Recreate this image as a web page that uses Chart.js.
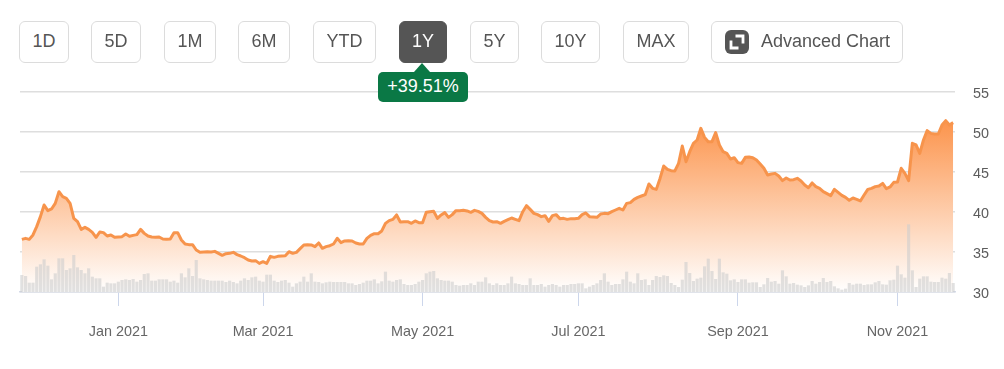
<!DOCTYPE html>
<html>
<head>
<meta charset="utf-8">
<script src="https://cdn.jsdelivr.net/npm/chart.js@4"></script>
<style>
    html, body { margin: 0; padding: 0; background: #fff; }
    #wrap { position: relative; width: 1004px; height: 369px; overflow: hidden; font-family: "Liberation Sans", Arial, sans-serif; }
    #chart-box { position: absolute; left: 0; top: 0; width: 1004px; height: 369px; }
    .btn {
        position: absolute; top: 21px; height: 40px; line-height: 38px;
        border: 1px solid #dcdcdc; border-radius: 6px; background: #fff;
        color: #555; font-size: 18px; text-align: center; box-sizing: content-box;
    }
    .btn.active { background: #555; border-color: #555; color: #fff; }
    .badge {
        position: absolute; left: 378px; top: 72px; width: 90px; height: 30px; line-height: 28px;
        background: #0a7845; color: #fff; border-radius: 5px; font-size: 18px; text-align: center;
    }
    .badge:before {
        content: ""; position: absolute; left: 36px; top: -9px; width: 0; height: 0;
        border-left: 8px solid transparent; border-right: 8px solid transparent; border-bottom: 9px solid #0a7845;
    }
    .btn svg { position: absolute; left: 13px; top: 8px; }
    .btn .txt { position: absolute; left: 49px; top: 0; white-space: nowrap; }
</style>
</head>
<body>
<div id="wrap">
    <div id="chart-box"><canvas id="chart"></canvas></div>
    <div class="btn" style="left:19px;width:48px">1D</div>
    <div class="btn" style="left:91px;width:48px">5D</div>
    <div class="btn" style="left:164px;width:50px">1M</div>
    <div class="btn" style="left:238px;width:50px">6M</div>
    <div class="btn" style="left:313px;width:61px">YTD</div>
    <div class="btn active" style="left:399px;width:46px">1Y</div>
    <div class="btn" style="left:470px;width:47px">5Y</div>
    <div class="btn" style="left:541px;width:57px">10Y</div>
    <div class="btn" style="left:623px;width:64px">MAX</div>
    <div class="btn" style="left:711px;width:190px">
        <svg width="24" height="24" viewBox="0 0 24 24">
            <rect x="0" y="0" width="24" height="24" rx="6" fill="#555"/>
            <path d="M10.5 6H18V13.5M13.5 18H6V10.5" fill="none" stroke="#fff" stroke-width="2.8"/>
        </svg>
        <span class="txt">Advanced Chart</span>
    </div>
    <div class="badge">+39.51%</div>
</div>
<script>
// 終値 (読み取り値)
const prices = [
    36.58,36.71,36.58,37.13,38.17,39.42,40.88,40.17,40.38,41.08,
    42.54,41.92,41.71,41.08,39.21,38.79,37.83,38.08,37.83,37.46,
    36.83,37.5,37.42,37,37.13,36.83,36.88,36.92,37.25,36.96,
    37.08,37.17,37.83,37.33,37,36.88,36.83,36.88,36.63,36.58,
    36.63,37.42,37.42,36.5,36,35.92,35.92,35.25,34.96,35,
    35.04,35,35.08,34.83,34.58,34.79,34.83,34.96,34.67,34.5,
    34.29,34,33.88,33.92,33.58,33.79,33.58,34.46,34.33,34.46,
    34.5,34.54,35.04,34.83,34.96,35.42,35.88,35.92,35.88,35.67,
    36.13,35.46,35.67,35.79,
    36,36.71,36.17,36.38,36.42,36.38,36.13,36,36,36.71,
    37.08,37.29,37.29,37.63,38.58,38.92,39.08,39.63,38.75,38.79,
    38.79,38.58,38.88,38.67,38.67,39.96,40.04,40.08,39.21,39.63,
    39.92,39.33,39.67,40.17,40.17,40.21,40.13,39.96,40.21,40.08,
    39.83,39.33,38.92,38.75,38.79,38.58,38.83,39.04,39.25,39.08,
    38.92,40.04,40.79,40.33,39.83,39.67,39.42,39.54,38.83,39.54,
    39.67,39.17,39.21,39.08,39.17,39.17,39.21,39.67,39.88,39.42,
    39.38,39.33,39.75,39.83,39.79,40.04,40.25,40.46,40.25,41.08,
    41.17,41.58,41.83,42,42.17,43.5,42.96,42.83,
    44.2,
    45.75,45.33,45.17,45.13,46.08,48.25,46.29,47.54,48.58,49,
    50.46,49.33,48.79,48.79,49.92,48.38,47.54,47.33,46.63,46.79,
    46.17,46.08,46.83,46.88,46.79,46.5,46,45.46,44.63,44.75,
    44.83,44.5,43.92,44.25,44,44.04,44.21,43.88,43.38,43.04,
    43.63,43.17,42.96,42.54,42.29,42.04,42.83,42.46,42.08,41.83,
    41.46,41.75,41.58,41.38,42.13,42.83,42.96,43.17,43.25,43.58,
    42.92,43.13,43.71,43.75,45.46,44.83,43.92,48.58,48.38,47.33,
    49,50.17,49.83,49.75,49.75,50.88,51.42,50.88,51.17
];

// 出来高 (単位は見た目からの推定)
const volumes = [
    1.7,1.6,.93,.93,2.53,2.77,3.27,2.63,1.27,1.87,
    3.37,3.37,2.2,2.37,3.7,2.47,2.2,1.87,2.37,1.53,
    1.37,1.37,.53,.93,.87,.87,1.03,1.2,1.27,1.2,
    1.3,1.03,1.2,1.8,1.87,1.13,1.13,1.27,1.27,1.27,
    1.03,1.13,.93,1.87,1.47,2.37,1.6,3.2,1.37,1.27,
    1.2,1.13,1.13,1.13,1.13,1,1.13,1,.87,1.13,
    1.37,1.2,1.47,1.53,1.13,1.03,1.73,1.73,1.13,1,
    1.13,1.2,.93,.53,.87,1.03,1.53,1.03,1.87,1.03,
    1,.87,.97,1.03,
    1,1,1,1,.87,.87,.7,.8,.93,1.13,
    1.13,1.27,.87,1.07,2.03,1.13,1.03,1.2,1.27,.8,
    .7,.7,.8,1.03,1.2,1.87,2.03,2.1,1.37,1.2,
    1.13,1.13,1.03,.7,.63,.7,.7,.87,.7,1.03,
    1.03,1.47,.87,.7,.87,.7,.7,.87,1.53,.87,
    .8,.7,.7,1.37,.7,.7,.8,.53,.7,.8,
    .7,.53,.7,.7,.8,.8,.87,.87,.37,.53,
    .7,.87,1.2,1.87,1.03,.7,.8,.8,1.27,2.03,
    1.03,.87,1.87,1.2,1.27,.7,1.2,1.6,
    1.5,1.67,1.6,.9,.7,.5,1.23,3,1.9,1.1,
    1.33,1.43,2.57,3.33,2.1,1.3,3.33,1.97,1.83,1.17,
    1.27,1,1.27,1.27,.93,.97,.97,.5,.77,1.4,
    1.03,1.1,.83,2.17,1.57,.83,.9,.73,.67,.5,
    .67,1.1,.83,1,1.4,1,1.1,.57,.37,.23,
    .33,.9,.73,.83,.83,.7,.77,.77,.97,1.1,
    .77,.73,1.17,1.23,2.63,1.77,1.43,6.77,2.17,.5,
    1.33,1.57,1.57,1.03,1,1,1.43,1.33,1.9,.9
];

const tickIndexes = [26, 65, 108, 150, 193, 236];
const tickLabels = ['Jan 2021', 'Mar 2021', 'May 2021', 'Jul 2021', 'Sep 2021', 'Nov 2021'];
const priceTicks = [30, 35, 40, 45, 50, 55];

function areaGradient(context) {
    const chart = context.chart;
    if (!chart.chartArea) return '#fdba8a';
    const y = chart.scales.y;
    const g = chart.ctx.createLinearGradient(0, y.getPixelForValue(Math.max(...prices)), 0, y.getPixelForValue(30));
    g.addColorStop(0, 'rgb(252,148,76)');
    g.addColorStop(1, 'rgb(255,255,255)');
    return g;
}

const labels = prices.map(function (p, i) { return i; });

const data = {
    labels: labels,
    datasets: [
        {
            type: 'bar',
            data: volumes,
            yAxisID: 'yVol',
            backgroundColor: 'rgba(205,205,205,0.6)',
            barPercentage: 1,
            categoryPercentage: 0.85,
            order: 1
        },
        {
            type: 'line',
            data: prices,
            yAxisID: 'y',
            borderColor: '#f7944c',
            borderWidth: 3,
            borderJoinStyle: 'round',
            pointRadius: 0,
            tension: 0,
            fill: 'start',
            backgroundColor: areaGradient,
            order: 2
        }
    ]
};

const options = {
    responsive: true,
    maintainAspectRatio: false,
    animation: false,
    layout: { padding: { left: 20, top: 92, right: 0, bottom: 0 } },
    plugins: { legend: { display: false }, tooltip: { enabled: false }, title: { display: false } },
    scales: {
        x: {
            type: 'category',
            offset: true,
            afterBuildTicks: function (scale) {
                scale.ticks = tickIndexes.map(function (i) { return { value: i }; });
            },
            afterFit: function (scale) { scale.height = 77; },
            border: { display: true, color: '#d4dae8', width: 1.5 },
            grid: { drawOnChartArea: false, drawTicks: true, tickLength: 14, tickColor: '#ccd6eb', offset: false },
            ticks: {
                autoSkip: false,
                maxRotation: 0,
                padding: 17,
                color: '#666',
                font: { family: '"Liberation Sans", Arial, sans-serif', size: 14.4 },
                callback: function (value) {
                    return tickLabels[tickIndexes.indexOf(value)];
                }
            }
        },
        y: {
            position: 'right',
            min: 30,
            max: 55,
            afterBuildTicks: function (scale) {
                scale.ticks = priceTicks.map(function (v) { return { value: v }; });
            },
            afterFit: function (scale) { scale.width = 49; },
            border: { display: false },
            grid: { color: '#dedede', lineWidth: 1.5, drawTicks: false },
            ticks: {
                padding: 18,
                labelOffset: 2,
                color: '#5c5c5c',
                font: { family: '"Liberation Sans", Arial, sans-serif', size: 14.4 }
            }
        },
        yVol: {
            display: false,
            min: 0,
            max: 20
        }
    }
};

const ctx = document.getElementById('chart').getContext('2d');
const chart = new Chart(ctx, { data: data, options: options });
</script>
</body>
</html>
